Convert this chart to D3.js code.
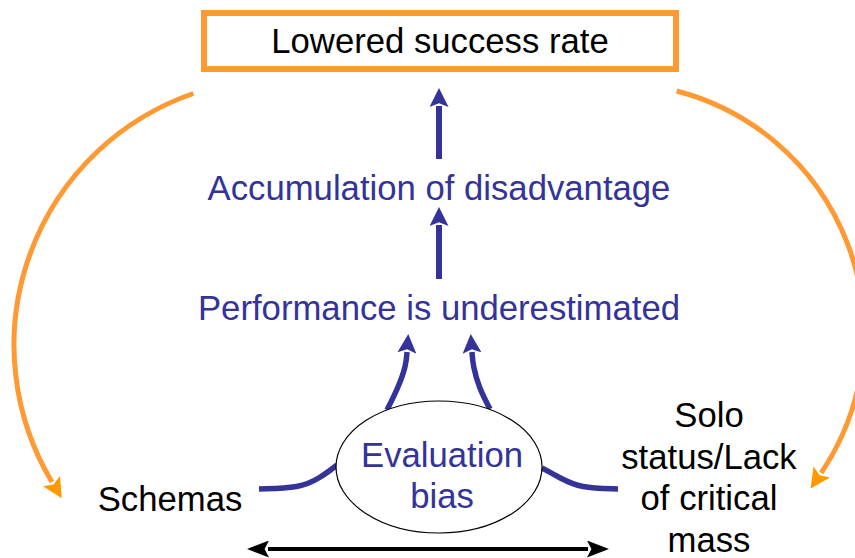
<!DOCTYPE html>
<html>
<head>
<meta charset="utf-8">
<script src="https://cdn.jsdelivr.net/npm/d3@7"></script>
<style>
  html, body { margin: 0; padding: 0; background: #fff; }
  svg { display: block; font-family: "Liberation Sans", Arial, sans-serif; }
</style>
</head>
<body>
<svg id="chart" width="855" height="558"></svg>
<script>
// Labels of the diagram
const topLabel = 'Lowered success rate';
const chainLabels = ['Accumulation of disadvantage', 'Performance is underestimated'];
const centerLabel = ['Evaluation', 'bias'];
const leftLabel = ['Schemas'];
const rightLabel = ['Solo', 'status/Lack', 'of critical', 'mass'];

const ORANGE = '#ff9933';
const BLUE = '#333399';
const FONT_SIZE = 34.7;

const svg = d3.select('#chart');
const defs = svg.append('defs');

// arrowhead markers (user space units)
function marker(id, color, len, wid) {
    defs.append('marker')
        .attr('id', id)
        .attr('viewBox', `0 ${-wid / 2} ${len} ${wid}`)
        .attr('refX', 1)
        .attr('refY', 0)
        .attr('markerUnits', 'userSpaceOnUse')
        .attr('markerWidth', len)
        .attr('markerHeight', wid)
        .attr('orient', 'auto-start-reverse')
        .append('path')
        .attr('d', `M0,${-wid / 2}L${len},0L0,${wid / 2}L${len * 0.2},0Z`)
        .attr('fill', color);
}
marker('head-orange', '#ff9900', 20, 20);
marker('head-blue', BLUE, 19, 19);
marker('head-black', '#000', 22, 17);

// top box
const box = { x: 204, y: 13, w: 472, h: 56 };
svg.append('rect')
    .attr('x', box.x).attr('y', box.y)
    .attr('width', box.w).attr('height', box.h)
    .attr('fill', '#fff')
    .attr('stroke', ORANGE)
    .attr('stroke-width', 6);

svg.append('text')
    .attr('x', 440).attr('y', 53)
    .attr('text-anchor', 'middle')
    .attr('font-size', FONT_SIZE)
    .attr('fill', '#000')
    .text(topLabel);

// blue chain text
const chainY = [200, 320];
svg.selectAll('.chain')
    .data(chainLabels)
    .enter()
    .append('text')
    .attr('class', 'chain')
    .attr('x', 439)
    .attr('y', (d, i) => chainY[i])
    .attr('text-anchor', 'middle')
    .attr('font-size', FONT_SIZE)
    .attr('fill', BLUE)
    .text(d => d);

// straight vertical arrows
const vArrows = [[159, 106], [279, 225]];
svg.selectAll('.varrow')
    .data(vArrows)
    .enter()
    .append('line')
    .attr('x1', 439).attr('x2', 439)
    .attr('y1', d => d[0]).attr('y2', d => d[1])
    .attr('stroke', BLUE)
    .attr('stroke-width', 6)
    .attr('marker-end', 'url(#head-blue)');

// curved arrows from ellipse up to "Performance"
const curveGen = d3.line().curve(d3.curveBasis);
const upCurves = [
    [[387, 410], [398, 388], [406, 366], [407, 352]],
    [[490, 409], [479, 388], [473, 366], [472, 352]]
];
svg.selectAll('.upcurve')
    .data(upCurves)
    .enter()
    .append('path')
    .attr('d', d => curveGen(d))
    .attr('fill', 'none')
    .attr('stroke', BLUE)
    .attr('stroke-width', 5.5)
    .attr('marker-end', 'url(#head-blue)');

// side feeders into ellipse
const sideCurves = [
    [[259, 489], [300, 488], [320, 478], [337, 465]],
    [[542, 468], [560, 478], [580, 488], [618, 489]]
];
svg.selectAll('.sidecurve')
    .data(sideCurves)
    .enter()
    .append('path')
    .attr('d', d => curveGen(d))
    .attr('fill', 'none')
    .attr('stroke', BLUE)
    .attr('stroke-width', 5.5);

// ellipse
svg.append('ellipse')
    .attr('cx', 439).attr('cy', 467)
    .attr('rx', 103).attr('ry', 66)
    .attr('fill', '#fff')
    .attr('stroke', '#000')
    .attr('stroke-width', 1.2);

svg.selectAll('.center')
    .data(centerLabel)
    .enter()
    .append('text')
    .attr('x', 442)
    .attr('y', (d, i) => 467 + i * 41)
    .attr('text-anchor', 'middle')
    .attr('font-size', FONT_SIZE)
    .attr('fill', BLUE)
    .text(d => d);

// left and right black labels
svg.append('text')
    .attr('x', 170).attr('y', 511)
    .attr('text-anchor', 'middle')
    .attr('font-size', FONT_SIZE)
    .attr('fill', '#000')
    .text(leftLabel[0]);

svg.selectAll('.right')
    .data(rightLabel)
    .enter()
    .append('text')
    .attr('x', 709)
    .attr('y', (d, i) => 427 + i * 41.7)
    .attr('text-anchor', 'middle')
    .attr('font-size', FONT_SIZE)
    .attr('fill', '#000')
    .text(d => d);

// black double arrow
svg.append('line')
    .attr('x1', 268).attr('x2', 588)
    .attr('y1', 549).attr('y2', 549)
    .attr('stroke', '#000')
    .attr('stroke-width', 4)
    .attr('marker-start', 'url(#head-black)')
    .attr('marker-end', 'url(#head-black)');

// orange feedback arcs
const rad = Math.PI / 180;
const arcs = [
    { cx: 280, cy: 345, r: 266, a0: -109, a1: -211, ccw: true },
    { cx: 614, cy: 333, r: 250, a0: -75.5, a1: 34, ccw: false }
];
arcs.forEach(a => {
    const p = d3.path();
    p.arc(a.cx, a.cy, a.r, a.a0 * rad, a.a1 * rad, a.ccw);
    svg.append('path')
        .attr('d', p.toString())
        .attr('fill', 'none')
        .attr('stroke', ORANGE)
        .attr('stroke-width', 5)
        .attr('marker-end', 'url(#head-orange)');
});
</script>
</body>
</html>
